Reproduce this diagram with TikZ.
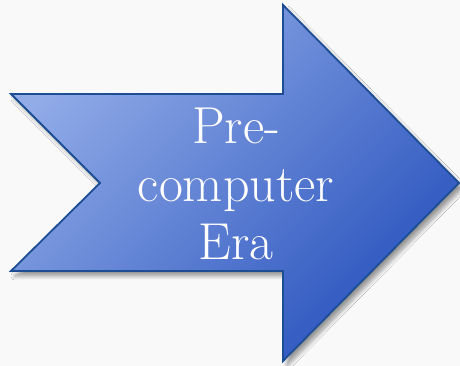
\documentclass[tikz,border=0pt]{standalone}
\usepackage{tikz}
\usetikzlibrary{shadows.blur}
\definecolor{arrowlight}{HTML}{92ACE8}
\definecolor{arrowdark}{HTML}{2A54BE}
\definecolor{arrowline}{HTML}{1D4E94}
\definecolor{paper}{HTML}{F9F9F9}

\begin{document}
\begin{tikzpicture}[x=1pt,y=1pt, anode/.style={shade, top color=arrowlight, bottom color=arrowdark, shading angle=45, draw=arrowline, line width=1.8pt, line join=miter, blur shadow={shadow xshift=4pt, shadow yshift=-5pt, shadow opacity=40, shadow blur steps=10, shadow blur radius=4pt}}, tnode/.style={text=white, align=center, font=\fontsize{52}{58}\selectfont, inner sep=0pt}]
    \fill[paper] (0,0) rectangle (460,366);
    \useasboundingbox (0,0) rectangle (460,366);

    \coordinate (tt) at (11,272);
    \coordinate (st) at (283,272);
    \coordinate (ht) at (283,361);
    \coordinate (tip) at (459,183);
    \coordinate (hb) at (283,5);
    \coordinate (sb) at (283,95);
    \coordinate (tb) at (11,95);
    \coordinate (notch) at (100,183);

    \path[anode] (tt) -- (st) -- (ht) -- (tip) -- (hb) -- (sb) -- (tb) -- (notch) -- cycle;

    \node[tnode] (era) at (236,182) {Pre-\\computer\\Era};
\end{tikzpicture}
\end{document}
